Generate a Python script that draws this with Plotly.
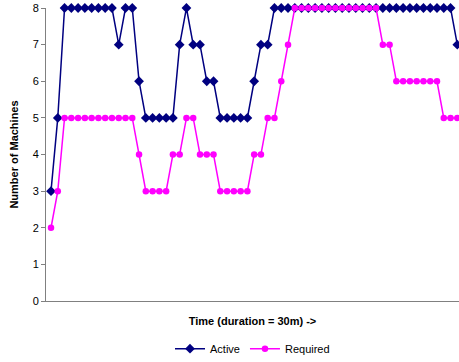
import plotly.graph_objects as go

time_idx = list(range(61))
active = [3, 5, 8, 8, 8, 8, 8, 8, 8, 8, 7, 8, 8, 6, 5, 5, 5, 5, 5, 7,
          8, 7, 7, 6, 6, 5, 5, 5, 5, 5, 6, 7, 7, 8, 8, 8, 8, 8, 8, 8,
          8, 8, 8, 8, 8, 8, 8, 8, 8, 8, 8, 8, 8, 8, 8, 8, 8, 8, 8, 8, 7]
required = [2, 3, 5, 5, 5, 5, 5, 5, 5, 5, 5, 5, 5, 4, 3, 3, 3, 3, 4, 4,
            5, 5, 4, 4, 4, 3, 3, 3, 3, 3, 4, 4, 5, 5, 6, 7, 8, 8, 8, 8,
            8, 8, 8, 8, 8, 8, 8, 8, 8, 7, 7, 6, 6, 6, 6, 6, 6, 6, 5, 5, 5]
y_ticks = [0, 1, 2, 3, 4, 5, 6, 7, 8]

fig = go.Figure()
fig.add_trace(go.Scatter(x=time_idx, y=active, name="Active", mode="lines+markers",
                         line=dict(color="#000080", width=1.5),
                         marker=dict(symbol="diamond", size=7.5, color="#000080"),
                         cliponaxis=False))
fig.add_trace(go.Scatter(x=time_idx, y=required, name="Required", mode="lines+markers",
                         line=dict(color="#FF00FF", width=1.5),
                         marker=dict(symbol="circle", size=6.5, color="#FF00FF"),
                         cliponaxis=False))

fig.update_layout(
    width=459, height=362,
    margin=dict(l=46, r=0, t=8, b=61, autoexpand=False),
    paper_bgcolor="white", plot_bgcolor="white",
    font=dict(family="Liberation Sans, Arial, sans-serif", size=11, color="black"),
    showlegend=True,
    legend=dict(orientation="h", x=0.5, xanchor="center", xref="paper",
                yref="container", y=0.077, yanchor="top",
                font=dict(size=11), itemwidth=30, tracegroupgap=0),
    xaxis=dict(range=[-0.74, 60.25], showticklabels=False, ticks="", showgrid=False,
               zeroline=False, showline=True, linecolor="#808080", linewidth=1,
               automargin=False,
               title=dict(text="<b>Time (duration = 30m) -></b>", font=dict(size=11), standoff=16)),
    yaxis=dict(range=[0, 8], tickvals=y_ticks, ticks="outside", ticklen=4, tickcolor="#808080",
               showgrid=False, zeroline=False, showline=True, linecolor="#808080", linewidth=1,
               automargin=False,
               title=dict(text="<b>Number of Machines</b>", font=dict(size=11), standoff=11)),
)

fig.write_html("out.html")
